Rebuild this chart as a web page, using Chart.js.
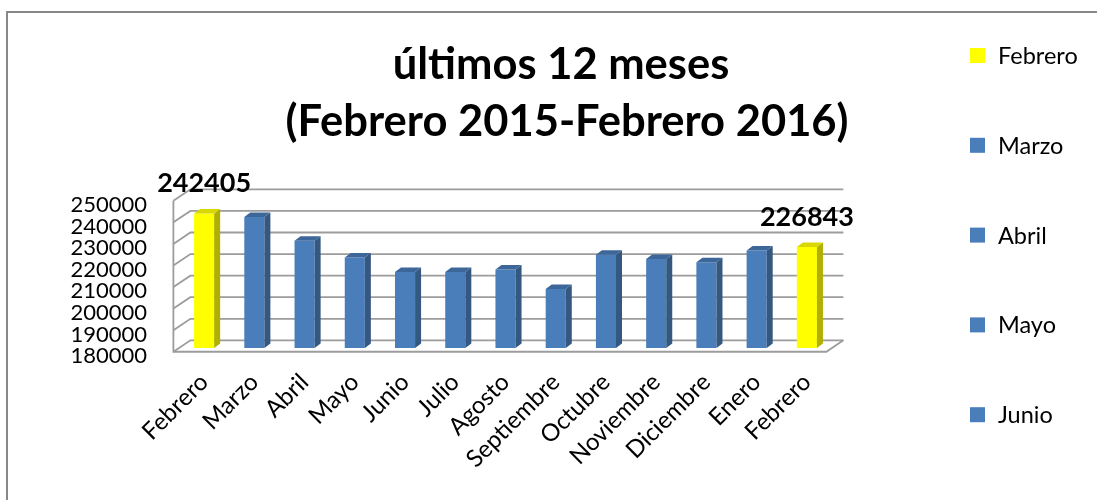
<!DOCTYPE html>
<html>
<head>
<meta charset="utf-8">
<script src="https://cdn.jsdelivr.net/npm/chart.js@4.4.0/dist/chart.umd.min.js"></script>
<style>
  html, body { margin: 0; padding: 0; background: #fff; }
  #wrap { width: 1097px; height: 500px; }
</style>
</head>
<body>
<div id="wrap"><canvas id="grafico"></canvas></div>
<script>
// Datos
const meses = ['Febrero', 'Marzo', 'Abril', 'Mayo', 'Junio', 'Julio', 'Agosto', 'Septiembre', 'Octubre', 'Noviembre', 'Diciembre', 'Enero', 'Febrero'];
const visitantes = [242405, 240700, 229700, 221900, 215200, 215200, 216400, 207400, 223200, 221300, 219800, 225200, 226843];
const destacados = [0, 12]; // barras amarillas con etiqueta de valor
const titulo = ['últimos 12 meses', '(Febrero 2015-Febrero 2016)'];
const ejeMin = 180000;
const ejeMax = 250000;
const ejePaso = 10000;

// Colores (frente, lado, tapa)
const amarillo = { frente: '#ffff00', lado: '#b0b000', tapa: '#d8d800' };
const azul = { frente: '#4a7ebb', lado: '#355880', tapa: '#3d6699' };
const estilos = meses.map((m, i) => destacados.includes(i) ? amarillo : azul);

const FUENTE = 'Lato, "Open Sans", sans-serif';

// Profundidad del efecto 3D
const PROF_X = 17, PROF_Y = 11.4, FRENTE = 0.33;
const BARRA_X = 6, BARRA_Y = 4.5;

function plano(x, y, t) {
    return [x + (t - FRENTE) * PROF_X, y - (t - FRENTE) * PROF_Y];
}

const paredes = {
    id: 'paredes',
    beforeDatasetsDraw(chart) {
        const { ctx, chartArea: a, scales: { y } } = chart;
        ctx.save();
        ctx.strokeStyle = '#9c9c9c';
        ctx.lineWidth = 1.8;
        for (let v = ejeMin; v <= ejeMax; v += ejePaso) {
            const py = y.getPixelForValue(v);
            const [fx, fy] = plano(a.left, py, 0);
            const [bx, by] = plano(a.left, py, 1);
            const [ex] = plano(a.right, py, 1);
            ctx.beginPath();
            ctx.moveTo(fx, fy);
            ctx.lineTo(bx, by);
            ctx.lineTo(ex, by);
            ctx.stroke();
        }
        // borde izquierdo y suelo
        const yTop = y.getPixelForValue(ejeMax);
        const yBase = y.getPixelForValue(ejeMin);
        const [lx, ly1] = plano(a.left, yTop, 0);
        const [, ly2] = plano(a.left, yBase, 0);
        const [rx, ry] = plano(a.right, yBase, 0);
        const [rbx, rby] = plano(a.right, yBase, 1);
        ctx.beginPath();
        ctx.moveTo(lx, ly1);
        ctx.lineTo(lx, ly2);
        ctx.lineTo(rx, ry);
        ctx.lineTo(rbx, rby);
        ctx.stroke();
        ctx.restore();
    },
    afterDatasetsDraw(chart) {
        const { ctx, scales: { y } } = chart;
        const meta = chart.getDatasetMeta(0);
        const base = y.getPixelForValue(ejeMin);
        ctx.save();
        meta.data.forEach((bar, i) => {
            const est = estilos[i];
            const l = bar.x - bar.width / 2;
            const r = bar.x + bar.width / 2;
            // lado
            ctx.fillStyle = est.lado;
            ctx.beginPath();
            ctx.moveTo(r, bar.y);
            ctx.lineTo(r + BARRA_X, bar.y - BARRA_Y);
            ctx.lineTo(r + BARRA_X, base - BARRA_Y);
            ctx.lineTo(r, base);
            ctx.closePath();
            ctx.fill();
            // tapa
            ctx.fillStyle = est.tapa;
            ctx.beginPath();
            ctx.moveTo(l, bar.y);
            ctx.lineTo(l + BARRA_X, bar.y - BARRA_Y);
            ctx.lineTo(r + BARRA_X, bar.y - BARRA_Y);
            ctx.lineTo(r, bar.y);
            ctx.closePath();
            ctx.fill();
        });
        // etiquetas de valor
        ctx.fillStyle = '#000';
        ctx.font = 'bold 27px ' + FUENTE;
        ctx.textAlign = 'center';
        ctx.textBaseline = 'alphabetic';
        destacados.forEach(i => {
            const bar = meta.data[i];
            ctx.fillText(String(visitantes[i]), bar.x, bar.y - 21);
        });
        ctx.restore();
    },
    afterDraw(chart) {
        const { ctx } = chart;
        ctx.save();
        // marco
        ctx.strokeStyle = '#888';
        ctx.lineWidth = 2;
        ctx.beginPath();
        ctx.moveTo(7, 500);
        ctx.lineTo(7, 12);
        ctx.lineTo(1097, 12);
        ctx.stroke();
        // título
        ctx.fillStyle = '#000';
        ctx.textAlign = 'center';
        ctx.textBaseline = 'alphabetic';
        ctx.font = 'bold 43.5px ' + FUENTE;
        ctx.fillText(titulo[0], 561, 79);
        ctx.fillText(titulo[1], 567, 136);
        // leyenda (solo caben las cinco primeras)
        ctx.font = '23.5px ' + FUENTE;
        ctx.textAlign = 'left';
        ctx.textBaseline = 'middle';
        for (let i = 0; i < 5; i++) {
            const cy = 55.5 + i * 89.8;
            ctx.fillStyle = estilos[i].frente;
            ctx.fillRect(970, cy - 7.5, 15, 15);
            ctx.fillStyle = '#000';
            ctx.fillText(meses[i], 998, cy + 1);
        }
        ctx.restore();
    }
};

const ctx = document.getElementById('grafico').getContext('2d');
const grafico = new Chart(ctx, {
    type: 'bar',
    data: {
        labels: meses,
        datasets: [{
            label: 'Visitantes',
            data: visitantes,
            backgroundColor: estilos.map(e => e.frente),
            barPercentage: 0.4,
            categoryPercentage: 1.0
        }]
    },
    options: {
        responsive: true,
        maintainAspectRatio: false,
        animation: false,
        layout: { padding: { left: 0, right: 265, top: 197, bottom: 0 } },
        plugins: {
            legend: { display: false },
            title: { display: false },
            tooltip: { enabled: false }
        },
        scales: {
            x: {
                grid: { display: false, drawTicks: false },
                border: { display: false },
                ticks: {
                    autoSkip: false,
                    minRotation: 45,
                    maxRotation: 45,
                    padding: 20,
                    labelOffset: 0,
                    color: '#000',
                    font: { family: FUENTE, size: 24 }
                },
                afterFit: s => { s.height = 152; }
            },
            y: {
                min: ejeMin,
                max: ejeMax,
                grid: { display: false, drawTicks: false },
                border: { display: false },
                ticks: {
                    autoSkip: false,
                    stepSize: ejePaso,
                    padding: 32,
                    labelOffset: 8,
                    color: '#000',
                    font: { family: FUENTE, size: 22 },
                    callback: v => String(v)
                },
                afterFit: s => { s.width = 179; }
            }
        }
    },
    plugins: [paredes]
});
</script>
</body>
</html>
